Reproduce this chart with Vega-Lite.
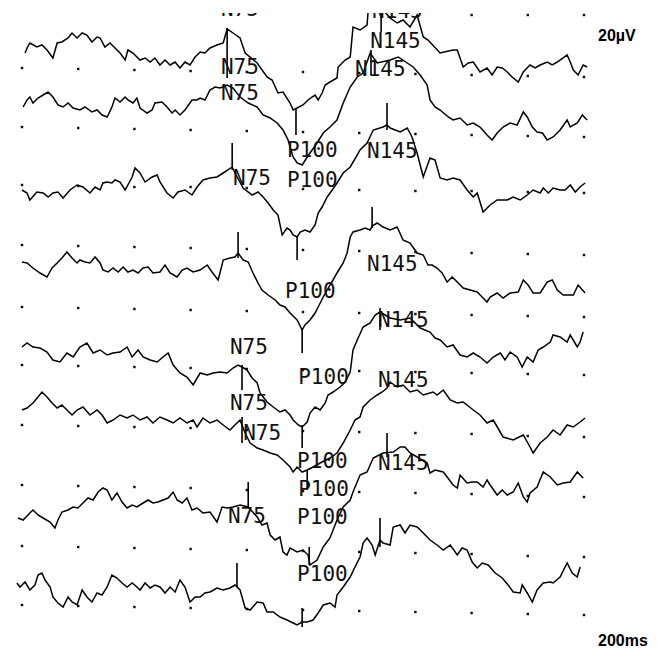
{
"$schema":"https://vega.github.io/schema/vega-lite/v6.json",
"width":657,"height":636,
"autosize":{"type":"none"},
"padding":{"left":0,"right":0,"top":13,"bottom":0},
"background":"white",
"config":{"view":{"stroke":null}},
"datasets":{
"dots":[
{"t":160,"y":15},{"t":180,"y":15},{"t":200,"y":15},
{"t":0,"y":68},{"t":20,"y":69},{"t":40,"y":70},{"t":60,"y":71},{"t":80,"y":72},{"t":100,"y":72},{"t":120,"y":73},{"t":140,"y":74},{"t":160,"y":75},{"t":180,"y":76},{"t":200,"y":77},
{"t":0,"y":127},{"t":20,"y":128},{"t":40,"y":129},{"t":60,"y":130},{"t":80,"y":131},{"t":100,"y":132},{"t":120,"y":133},{"t":140,"y":134},{"t":160,"y":135},{"t":180,"y":136},{"t":200,"y":137},
{"t":0,"y":185},{"t":20,"y":186},{"t":40,"y":187},{"t":60,"y":187},{"t":80,"y":188},{"t":100,"y":189},{"t":120,"y":190},{"t":140,"y":191},{"t":160,"y":191},{"t":180,"y":192},{"t":200,"y":193},
{"t":0,"y":245},{"t":20,"y":246},{"t":40,"y":247},{"t":60,"y":248},{"t":80,"y":249},{"t":100,"y":250},{"t":120,"y":251},{"t":140,"y":252},{"t":160,"y":253},{"t":180,"y":254},{"t":200,"y":255},
{"t":0,"y":307},{"t":20,"y":308},{"t":40,"y":309},{"t":60,"y":310},{"t":80,"y":311},{"t":100,"y":312},{"t":120,"y":313},{"t":140,"y":314},{"t":160,"y":315},{"t":180,"y":316},{"t":200,"y":317},
{"t":0,"y":365},{"t":20,"y":366},{"t":40,"y":367},{"t":60,"y":368},{"t":80,"y":369},{"t":100,"y":370},{"t":120,"y":371},{"t":140,"y":372},{"t":160,"y":373},{"t":180,"y":374},{"t":200,"y":375},
{"t":0,"y":425},{"t":20,"y":426},{"t":40,"y":427},{"t":60,"y":428},{"t":80,"y":430},{"t":100,"y":431},{"t":120,"y":432},{"t":140,"y":433},{"t":160,"y":434},{"t":180,"y":436},{"t":200,"y":437},
{"t":0,"y":485},{"t":20,"y":486},{"t":40,"y":487},{"t":60,"y":488},{"t":80,"y":490},{"t":100,"y":491},{"t":120,"y":492},{"t":140,"y":493},{"t":160,"y":494},{"t":180,"y":496},{"t":200,"y":497},
{"t":0,"y":546},{"t":20,"y":547},{"t":40,"y":548},{"t":60,"y":549},{"t":80,"y":550},{"t":100,"y":551},{"t":120,"y":552},{"t":140,"y":553},{"t":160,"y":554},{"t":180,"y":556},{"t":200,"y":557},
{"t":0,"y":605},{"t":20,"y":606},{"t":40,"y":607},{"t":60,"y":608},{"t":80,"y":609},{"t":100,"y":610},{"t":120,"y":611},{"t":140,"y":612},{"t":160,"y":613},{"t":180,"y":614},{"t":200,"y":615}
],
"tr":[
{"s":1,"t":1.1,"y":53},{"s":1,"t":1.8,"y":48},{"s":1,"t":2.8,"y":43},{"s":1,"t":5.3,"y":47},{"s":1,"t":7.1,"y":45},{"s":1,"t":8.9,"y":50},{"s":1,"t":11.0,"y":58},{"s":1,"t":12.5,"y":43},{"s":1,"t":14.2,"y":42},{"s":1,"t":16.4,"y":38},{"s":1,"t":17.8,"y":33},{"s":1,"t":19.6,"y":38},{"s":1,"t":21.4,"y":33},{"s":1,"t":23.1,"y":35},{"s":1,"t":24.9,"y":42},{"s":1,"t":26.7,"y":37},{"s":1,"t":27.8,"y":38},{"s":1,"t":29.5,"y":47},{"s":1,"t":31.3,"y":43},{"s":1,"t":33.1,"y":48},{"s":1,"t":34.9,"y":53},{"s":1,"t":36.7,"y":60},{"s":1,"t":37.7,"y":50},{"s":1,"t":39.5,"y":53},{"s":1,"t":42.0,"y":60},{"s":1,"t":43.8,"y":58},{"s":1,"t":45.6,"y":62},{"s":1,"t":47.3,"y":58},{"s":1,"t":49.1,"y":65},{"s":1,"t":50.9,"y":60},{"s":1,"t":52.7,"y":65},{"s":1,"t":54.5,"y":62},{"s":1,"t":56.2,"y":68},{"s":1,"t":58.0,"y":62},{"s":1,"t":59.8,"y":65},{"s":1,"t":61.6,"y":57},{"s":1,"t":63.4,"y":52},{"s":1,"t":65.1,"y":53},{"s":1,"t":66.9,"y":48},{"s":1,"t":69.4,"y":45},{"s":1,"t":71.6,"y":43},{"s":1,"t":73.0,"y":29},{"s":1,"t":75.1,"y":33},{"s":1,"t":77.6,"y":38},{"s":1,"t":79.4,"y":53},{"s":1,"t":83.7,"y":63},{"s":1,"t":87.2,"y":77},{"s":1,"t":89.0,"y":80},{"s":1,"t":91.1,"y":93},{"s":1,"t":92.9,"y":92},{"s":1,"t":95.4,"y":103},{"s":1,"t":96.5,"y":110},{"s":1,"t":97.9,"y":108},{"s":1,"t":100.0,"y":105},{"s":1,"t":101.8,"y":100},{"s":1,"t":103.2,"y":97},{"s":1,"t":104.3,"y":95},{"s":1,"t":105.4,"y":100},{"s":1,"t":106.8,"y":93},{"s":1,"t":107.9,"y":85},{"s":1,"t":109.6,"y":82},{"s":1,"t":112.1,"y":78},{"s":1,"t":112.5,"y":67},{"s":1,"t":115.0,"y":60},{"s":1,"t":116.8,"y":57},{"s":1,"t":117.8,"y":27},{"s":1,"t":120.3,"y":30},{"s":1,"t":122.8,"y":25},{"s":1,"t":123.2,"y":10},{"s":1,"t":126.4,"y":8},{"s":1,"t":128.5,"y":10},{"s":1,"t":131.0,"y":18},{"s":1,"t":133.5,"y":23},{"s":1,"t":135.6,"y":20},{"s":1,"t":138.1,"y":27},{"s":1,"t":140.6,"y":15},{"s":1,"t":142.8,"y":37},{"s":1,"t":144.5,"y":40},{"s":1,"t":148.8,"y":53},{"s":1,"t":153.4,"y":50},{"s":1,"t":154.9,"y":50},{"s":1,"t":157.0,"y":67},{"s":1,"t":158.8,"y":63},{"s":1,"t":160.6,"y":62},{"s":1,"t":163.0,"y":72},{"s":1,"t":165.5,"y":68},{"s":1,"t":167.3,"y":75},{"s":1,"t":169.1,"y":67},{"s":1,"t":170.9,"y":68},{"s":1,"t":172.7,"y":72},{"s":1,"t":174.4,"y":77},{"s":1,"t":176.6,"y":82},{"s":1,"t":178.4,"y":72},{"s":1,"t":180.8,"y":65},{"s":1,"t":182.6,"y":68},{"s":1,"t":184.4,"y":65},{"s":1,"t":186.9,"y":62},{"s":1,"t":188.7,"y":65},{"s":1,"t":190.5,"y":62},{"s":1,"t":194.0,"y":55},{"s":1,"t":195.1,"y":62},{"s":1,"t":196.2,"y":70},{"s":1,"t":197.9,"y":75},{"s":1,"t":199.7,"y":65},{"s":1,"t":201.1,"y":67},
{"s":2,"t":0.4,"y":107},{"s":2,"t":1.8,"y":100},{"s":2,"t":2.8,"y":97},{"s":2,"t":3.9,"y":103},{"s":2,"t":5.7,"y":98},{"s":2,"t":7.5,"y":95},{"s":2,"t":9.3,"y":92},{"s":2,"t":11.0,"y":97},{"s":2,"t":12.8,"y":105},{"s":2,"t":14.6,"y":107},{"s":2,"t":16.4,"y":103},{"s":2,"t":18.2,"y":108},{"s":2,"t":20.6,"y":110},{"s":2,"t":22.4,"y":107},{"s":2,"t":24.9,"y":112},{"s":2,"t":26.7,"y":110},{"s":2,"t":28.5,"y":115},{"s":2,"t":30.3,"y":117},{"s":2,"t":32.0,"y":107},{"s":2,"t":33.1,"y":98},{"s":2,"t":34.9,"y":102},{"s":2,"t":36.7,"y":97},{"s":2,"t":37.7,"y":100},{"s":2,"t":39.5,"y":103},{"s":2,"t":40.9,"y":98},{"s":2,"t":42.0,"y":108},{"s":2,"t":44.5,"y":113},{"s":2,"t":46.3,"y":110},{"s":2,"t":47.3,"y":103},{"s":2,"t":49.8,"y":102},{"s":2,"t":51.6,"y":107},{"s":2,"t":53.4,"y":113},{"s":2,"t":54.5,"y":110},{"s":2,"t":56.2,"y":115},{"s":2,"t":58.0,"y":110},{"s":2,"t":60.5,"y":100},{"s":2,"t":62.3,"y":100},{"s":2,"t":63.4,"y":98},{"s":2,"t":65.1,"y":100},{"s":2,"t":66.9,"y":90},{"s":2,"t":68.7,"y":87},{"s":2,"t":70.5,"y":88},{"s":2,"t":73.0,"y":85},{"s":2,"t":75.1,"y":88},{"s":2,"t":77.6,"y":97},{"s":2,"t":80.5,"y":103},{"s":2,"t":83.7,"y":107},{"s":2,"t":85.8,"y":115},{"s":2,"t":88.3,"y":118},{"s":2,"t":90.8,"y":123},{"s":2,"t":92.9,"y":130},{"s":2,"t":94.7,"y":140},{"s":2,"t":95.4,"y":147},{"s":2,"t":96.5,"y":157},{"s":2,"t":97.9,"y":163},{"s":2,"t":99.7,"y":165},{"s":2,"t":101.5,"y":157},{"s":2,"t":105.0,"y":143},{"s":2,"t":107.2,"y":133},{"s":2,"t":109.6,"y":127},{"s":2,"t":112.1,"y":120},{"s":2,"t":114.3,"y":103},{"s":2,"t":116.8,"y":87},{"s":2,"t":119.3,"y":77},{"s":2,"t":121.4,"y":73},{"s":2,"t":123.9,"y":53},{"s":2,"t":126.4,"y":63},{"s":2,"t":131.0,"y":60},{"s":2,"t":133.9,"y":57},{"s":2,"t":137.1,"y":63},{"s":2,"t":139.2,"y":67},{"s":2,"t":141.7,"y":75},{"s":2,"t":144.2,"y":85},{"s":2,"t":145.2,"y":100},{"s":2,"t":147.0,"y":107},{"s":2,"t":148.8,"y":110},{"s":2,"t":151.7,"y":117},{"s":2,"t":153.4,"y":120},{"s":2,"t":155.9,"y":118},{"s":2,"t":158.4,"y":125},{"s":2,"t":160.6,"y":123},{"s":2,"t":163.0,"y":127},{"s":2,"t":165.5,"y":135},{"s":2,"t":167.3,"y":140},{"s":2,"t":169.1,"y":133},{"s":2,"t":171.2,"y":127},{"s":2,"t":173.7,"y":123},{"s":2,"t":176.2,"y":125},{"s":2,"t":178.4,"y":112},{"s":2,"t":179.8,"y":117},{"s":2,"t":181.6,"y":127},{"s":2,"t":183.3,"y":132},{"s":2,"t":185.2,"y":133},{"s":2,"t":186.9,"y":140},{"s":2,"t":189.0,"y":137},{"s":2,"t":191.5,"y":130},{"s":2,"t":194.0,"y":120},{"s":2,"t":195.1,"y":127},{"s":2,"t":197.6,"y":123},{"s":2,"t":199.4,"y":115},{"s":2,"t":201.1,"y":120},
{"s":3,"t":0,"y":190},{"s":3,"t":1.8,"y":193},{"s":3,"t":2.8,"y":200},{"s":3,"t":5.3,"y":192},{"s":3,"t":7.5,"y":193},{"s":3,"t":9.3,"y":197},{"s":3,"t":11.0,"y":193},{"s":3,"t":12.8,"y":192},{"s":3,"t":14.6,"y":198},{"s":3,"t":17.1,"y":190},{"s":3,"t":19.6,"y":185},{"s":3,"t":21.7,"y":187},{"s":3,"t":24.2,"y":193},{"s":3,"t":26.0,"y":187},{"s":3,"t":27.8,"y":190},{"s":3,"t":28.8,"y":183},{"s":3,"t":30.3,"y":182},{"s":3,"t":32.0,"y":183},{"s":3,"t":33.1,"y":180},{"s":3,"t":34.9,"y":182},{"s":3,"t":36.7,"y":190},{"s":3,"t":39.2,"y":177},{"s":3,"t":40.2,"y":168},{"s":3,"t":42.0,"y":173},{"s":3,"t":43.8,"y":182},{"s":3,"t":46.3,"y":177},{"s":3,"t":48.1,"y":175},{"s":3,"t":49.1,"y":182},{"s":3,"t":51.6,"y":193},{"s":3,"t":53.8,"y":198},{"s":3,"t":55.5,"y":192},{"s":3,"t":58.0,"y":190},{"s":3,"t":60.5,"y":195},{"s":3,"t":62.3,"y":187},{"s":3,"t":64.4,"y":180},{"s":3,"t":66.9,"y":178},{"s":3,"t":69.4,"y":177},{"s":3,"t":71.6,"y":173},{"s":3,"t":74.8,"y":167},{"s":3,"t":75.8,"y":173},{"s":3,"t":78.7,"y":188},{"s":3,"t":81.9,"y":195},{"s":3,"t":84.0,"y":192},{"s":3,"t":85.8,"y":197},{"s":3,"t":87.6,"y":203},{"s":3,"t":89.4,"y":210},{"s":3,"t":91.1,"y":215},{"s":3,"t":92.6,"y":235},{"s":3,"t":94.3,"y":228},{"s":3,"t":95.4,"y":230},{"s":3,"t":96.5,"y":235},{"s":3,"t":97.9,"y":237},{"s":3,"t":99.0,"y":232},{"s":3,"t":100.7,"y":230},{"s":3,"t":102.5,"y":232},{"s":3,"t":104.3,"y":225},{"s":3,"t":105.4,"y":213},{"s":3,"t":106.8,"y":207},{"s":3,"t":108.6,"y":197},{"s":3,"t":110.4,"y":190},{"s":3,"t":112.1,"y":183},{"s":3,"t":114.3,"y":173},{"s":3,"t":116.8,"y":167},{"s":3,"t":119.3,"y":155},{"s":3,"t":120.3,"y":150},{"s":3,"t":122.8,"y":143},{"s":3,"t":125.0,"y":130},{"s":3,"t":128.5,"y":127},{"s":3,"t":129.9,"y":125},{"s":3,"t":131.0,"y":128},{"s":3,"t":134.6,"y":132},{"s":3,"t":137.1,"y":128},{"s":3,"t":138.8,"y":137},{"s":3,"t":140.6,"y":153},{"s":3,"t":142.8,"y":177},{"s":3,"t":145.2,"y":158},{"s":3,"t":147.0,"y":160},{"s":3,"t":148.8,"y":178},{"s":3,"t":151.3,"y":180},{"s":3,"t":153.4,"y":178},{"s":3,"t":155.9,"y":180},{"s":3,"t":158.4,"y":190},{"s":3,"t":160.6,"y":197},{"s":3,"t":162.0,"y":193},{"s":3,"t":164.1,"y":212},{"s":3,"t":166.6,"y":205},{"s":3,"t":169.1,"y":200},{"s":3,"t":172.7,"y":200},{"s":3,"t":174.8,"y":197},{"s":3,"t":177.3,"y":200},{"s":3,"t":179.8,"y":195},{"s":3,"t":181.9,"y":190},{"s":3,"t":184.4,"y":193},{"s":3,"t":185.5,"y":188},{"s":3,"t":187.3,"y":193},{"s":3,"t":189.0,"y":188},{"s":3,"t":191.5,"y":190},{"s":3,"t":193.3,"y":190},{"s":3,"t":195.1,"y":185},{"s":3,"t":196.9,"y":192},{"s":3,"t":198.6,"y":187},{"s":3,"t":200.4,"y":183},
{"s":4,"t":0,"y":262},{"s":4,"t":1.8,"y":263},{"s":4,"t":3.9,"y":268},{"s":4,"t":6.4,"y":273},{"s":4,"t":8.9,"y":277},{"s":4,"t":10.7,"y":268},{"s":4,"t":12.5,"y":263},{"s":4,"t":14.2,"y":258},{"s":4,"t":16.0,"y":252},{"s":4,"t":17.8,"y":258},{"s":4,"t":19.6,"y":263},{"s":4,"t":20.6,"y":260},{"s":4,"t":22.4,"y":262},{"s":4,"t":24.2,"y":263},{"s":4,"t":26.0,"y":257},{"s":4,"t":27.8,"y":263},{"s":4,"t":28.8,"y":270},{"s":4,"t":30.6,"y":272},{"s":4,"t":32.4,"y":268},{"s":4,"t":34.2,"y":272},{"s":4,"t":36.0,"y":267},{"s":4,"t":37.7,"y":272},{"s":4,"t":39.5,"y":270},{"s":4,"t":41.3,"y":273},{"s":4,"t":43.1,"y":268},{"s":4,"t":44.9,"y":267},{"s":4,"t":46.6,"y":273},{"s":4,"t":49.1,"y":272},{"s":4,"t":50.9,"y":265},{"s":4,"t":52.7,"y":273},{"s":4,"t":55.2,"y":277},{"s":4,"t":57.0,"y":270},{"s":4,"t":58.7,"y":268},{"s":4,"t":60.9,"y":272},{"s":4,"t":63.4,"y":270},{"s":4,"t":65.9,"y":265},{"s":4,"t":67.6,"y":272},{"s":4,"t":69.8,"y":280},{"s":4,"t":71.6,"y":260},{"s":4,"t":74.0,"y":258},{"s":4,"t":75.8,"y":257},{"s":4,"t":76.9,"y":253},{"s":4,"t":78.7,"y":260},{"s":4,"t":80.5,"y":262},{"s":4,"t":82.2,"y":273},{"s":4,"t":84.0,"y":283},{"s":4,"t":85.4,"y":290},{"s":4,"t":87.6,"y":295},{"s":4,"t":90.1,"y":300},{"s":4,"t":91.8,"y":305},{"s":4,"t":93.6,"y":307},{"s":4,"t":95.4,"y":313},{"s":4,"t":97.9,"y":320},{"s":4,"t":99.7,"y":330},{"s":4,"t":100.7,"y":325},{"s":4,"t":102.5,"y":320},{"s":4,"t":104.3,"y":313},{"s":4,"t":105.4,"y":307},{"s":4,"t":107.2,"y":297},{"s":4,"t":108.6,"y":290},{"s":4,"t":110.7,"y":280},{"s":4,"t":112.1,"y":273},{"s":4,"t":114.3,"y":263},{"s":4,"t":115.7,"y":253},{"s":4,"t":116.8,"y":237},{"s":4,"t":117.8,"y":232},{"s":4,"t":120.3,"y":230},{"s":4,"t":122.1,"y":228},{"s":4,"t":123.9,"y":230},{"s":4,"t":124.6,"y":226},{"s":4,"t":126.4,"y":223},{"s":4,"t":128.5,"y":227},{"s":4,"t":131.0,"y":230},{"s":4,"t":133.5,"y":227},{"s":4,"t":135.6,"y":240},{"s":4,"t":138.1,"y":243},{"s":4,"t":140.6,"y":253},{"s":4,"t":142.8,"y":255},{"s":4,"t":144.5,"y":265},{"s":4,"t":146.0,"y":265},{"s":4,"t":147.7,"y":268},{"s":4,"t":149.5,"y":273},{"s":4,"t":151.3,"y":282},{"s":4,"t":153.1,"y":277},{"s":4,"t":154.9,"y":282},{"s":4,"t":157.0,"y":288},{"s":4,"t":159.5,"y":290},{"s":4,"t":162.0,"y":292},{"s":4,"t":164.1,"y":298},{"s":4,"t":165.5,"y":302},{"s":4,"t":166.6,"y":297},{"s":4,"t":169.1,"y":293},{"s":4,"t":171.2,"y":298},{"s":4,"t":173.7,"y":293},{"s":4,"t":176.6,"y":292},{"s":4,"t":178.4,"y":280},{"s":4,"t":180.1,"y":285},{"s":4,"t":181.9,"y":293},{"s":4,"t":184.4,"y":293},{"s":4,"t":186.9,"y":282},{"s":4,"t":188.7,"y":280},{"s":4,"t":190.5,"y":290},{"s":4,"t":192.6,"y":295},{"s":4,"t":196.2,"y":295},{"s":4,"t":197.9,"y":285},{"s":4,"t":200.4,"y":293},
{"s":5,"t":0,"y":347},{"s":5,"t":1.8,"y":343},{"s":5,"t":3.9,"y":347},{"s":5,"t":6.4,"y":348},{"s":5,"t":8.9,"y":352},{"s":5,"t":11.0,"y":360},{"s":5,"t":13.5,"y":362},{"s":5,"t":16.0,"y":353},{"s":5,"t":18.2,"y":357},{"s":5,"t":20.6,"y":347},{"s":5,"t":23.1,"y":343},{"s":5,"t":25.3,"y":353},{"s":5,"t":27.8,"y":350},{"s":5,"t":30.3,"y":355},{"s":5,"t":32.4,"y":353},{"s":5,"t":34.9,"y":352},{"s":5,"t":37.4,"y":347},{"s":5,"t":39.2,"y":357},{"s":5,"t":41.3,"y":350},{"s":5,"t":43.1,"y":357},{"s":5,"t":45.6,"y":360},{"s":5,"t":48.1,"y":362},{"s":5,"t":50.2,"y":357},{"s":5,"t":52.0,"y":353},{"s":5,"t":53.8,"y":365},{"s":5,"t":56.2,"y":373},{"s":5,"t":58.7,"y":377},{"s":5,"t":60.9,"y":385},{"s":5,"t":63.4,"y":373},{"s":5,"t":65.9,"y":375},{"s":5,"t":68.0,"y":373},{"s":5,"t":70.5,"y":372},{"s":5,"t":73.0,"y":373},{"s":5,"t":75.1,"y":368},{"s":5,"t":76.9,"y":365},{"s":5,"t":78.3,"y":367},{"s":5,"t":80.1,"y":370},{"s":5,"t":81.9,"y":378},{"s":5,"t":83.7,"y":383},{"s":5,"t":84.7,"y":393},{"s":5,"t":87.2,"y":402},{"s":5,"t":89.4,"y":407},{"s":5,"t":91.8,"y":412},{"s":5,"t":93.6,"y":410},{"s":5,"t":95.4,"y":415},{"s":5,"t":96.5,"y":420},{"s":5,"t":98.3,"y":425},{"s":5,"t":99.7,"y":427},{"s":5,"t":101.5,"y":422},{"s":5,"t":102.5,"y":413},{"s":5,"t":104.3,"y":407},{"s":5,"t":106.1,"y":410},{"s":5,"t":107.9,"y":403},{"s":5,"t":108.9,"y":395},{"s":5,"t":110.7,"y":392},{"s":5,"t":113.2,"y":387},{"s":5,"t":115.0,"y":382},{"s":5,"t":116.8,"y":372},{"s":5,"t":117.8,"y":350},{"s":5,"t":119.3,"y":340},{"s":5,"t":121.4,"y":327},{"s":5,"t":123.9,"y":323},{"s":5,"t":125.7,"y":315},{"s":5,"t":127.4,"y":312},{"s":5,"t":131.0,"y":318},{"s":5,"t":134.6,"y":320},{"s":5,"t":138.1,"y":318},{"s":5,"t":141.7,"y":328},{"s":5,"t":145.2,"y":332},{"s":5,"t":147.0,"y":338},{"s":5,"t":148.8,"y":340},{"s":5,"t":151.3,"y":347},{"s":5,"t":153.4,"y":345},{"s":5,"t":155.9,"y":355},{"s":5,"t":158.4,"y":357},{"s":5,"t":160.6,"y":353},{"s":5,"t":163.0,"y":357},{"s":5,"t":165.5,"y":363},{"s":5,"t":167.7,"y":357},{"s":5,"t":170.2,"y":353},{"s":5,"t":171.9,"y":360},{"s":5,"t":173.7,"y":352},{"s":5,"t":176.2,"y":357},{"s":5,"t":178.0,"y":367},{"s":5,"t":179.8,"y":357},{"s":5,"t":181.9,"y":362},{"s":5,"t":183.7,"y":350},{"s":5,"t":185.5,"y":347},{"s":5,"t":188.0,"y":342},{"s":5,"t":189.0,"y":335},{"s":5,"t":191.5,"y":337},{"s":5,"t":194.0,"y":342},{"s":5,"t":195.1,"y":335},{"s":5,"t":197.6,"y":347},{"s":5,"t":198.6,"y":342},{"s":5,"t":199.7,"y":332},
{"s":6,"t":0,"y":410},{"s":6,"t":1.8,"y":408},{"s":6,"t":3.9,"y":403},{"s":6,"t":5.7,"y":397},{"s":6,"t":7.1,"y":392},{"s":6,"t":8.9,"y":397},{"s":6,"t":10.7,"y":403},{"s":6,"t":12.5,"y":408},{"s":6,"t":14.2,"y":405},{"s":6,"t":16.0,"y":410},{"s":6,"t":17.8,"y":415},{"s":6,"t":19.6,"y":410},{"s":6,"t":21.7,"y":407},{"s":6,"t":24.2,"y":415},{"s":6,"t":26.7,"y":410},{"s":6,"t":28.5,"y":415},{"s":6,"t":30.3,"y":423},{"s":6,"t":32.4,"y":420},{"s":6,"t":34.9,"y":415},{"s":6,"t":37.4,"y":418},{"s":6,"t":39.5,"y":415},{"s":6,"t":42.0,"y":420},{"s":6,"t":44.5,"y":417},{"s":6,"t":46.6,"y":423},{"s":6,"t":49.1,"y":417},{"s":6,"t":51.6,"y":420},{"s":6,"t":53.8,"y":423},{"s":6,"t":56.2,"y":418},{"s":6,"t":58.7,"y":423},{"s":6,"t":60.9,"y":420},{"s":6,"t":62.3,"y":427},{"s":6,"t":64.4,"y":418},{"s":6,"t":66.9,"y":423},{"s":6,"t":69.4,"y":420},{"s":6,"t":71.6,"y":425},{"s":6,"t":74.0,"y":430},{"s":6,"t":76.5,"y":423},{"s":6,"t":77.6,"y":420},{"s":6,"t":79.4,"y":433},{"s":6,"t":81.2,"y":443},{"s":6,"t":83.7,"y":448},{"s":6,"t":85.8,"y":450},{"s":6,"t":88.3,"y":453},{"s":6,"t":90.8,"y":455},{"s":6,"t":92.9,"y":460},{"s":6,"t":95.4,"y":467},{"s":6,"t":96.5,"y":472},{"s":6,"t":97.9,"y":467},{"s":6,"t":99.7,"y":472},{"s":6,"t":101.5,"y":470},{"s":6,"t":103.6,"y":467},{"s":6,"t":106.1,"y":463},{"s":6,"t":109.6,"y":458},{"s":6,"t":112.1,"y":453},{"s":6,"t":114.3,"y":443},{"s":6,"t":116.8,"y":430},{"s":6,"t":118.5,"y":420},{"s":6,"t":120.3,"y":417},{"s":6,"t":121.4,"y":407},{"s":6,"t":123.9,"y":400},{"s":6,"t":126.4,"y":395},{"s":6,"t":128.2,"y":392},{"s":6,"t":129.9,"y":388},{"s":6,"t":131.0,"y":382},{"s":6,"t":133.5,"y":387},{"s":6,"t":135.6,"y":385},{"s":6,"t":138.1,"y":392},{"s":6,"t":140.6,"y":390},{"s":6,"t":142.8,"y":395},{"s":6,"t":146.3,"y":392},{"s":6,"t":147.7,"y":395},{"s":6,"t":149.9,"y":390},{"s":6,"t":152.4,"y":400},{"s":6,"t":154.9,"y":403},{"s":6,"t":157.0,"y":402},{"s":6,"t":160.6,"y":410},{"s":6,"t":163.0,"y":415},{"s":6,"t":165.5,"y":423},{"s":6,"t":167.7,"y":420},{"s":6,"t":171.2,"y":437},{"s":6,"t":174.8,"y":440},{"s":6,"t":178.4,"y":435},{"s":6,"t":180.8,"y":447},{"s":6,"t":181.9,"y":453},{"s":6,"t":184.4,"y":443},{"s":6,"t":186.9,"y":437},{"s":6,"t":189.0,"y":430},{"s":6,"t":191.5,"y":435},{"s":6,"t":194.0,"y":425},{"s":6,"t":196.2,"y":427},{"s":6,"t":198.6,"y":422},{"s":6,"t":200.4,"y":418},
{"s":7,"t":-1.4,"y":518},{"s":7,"t":0.4,"y":520},{"s":7,"t":2.8,"y":513},{"s":7,"t":3.9,"y":510},{"s":7,"t":5.7,"y":515},{"s":7,"t":7.5,"y":518},{"s":7,"t":10.0,"y":522},{"s":7,"t":11.7,"y":528},{"s":7,"t":12.8,"y":520},{"s":7,"t":14.2,"y":512},{"s":7,"t":16.4,"y":510},{"s":7,"t":18.2,"y":507},{"s":7,"t":19.9,"y":508},{"s":7,"t":21.7,"y":503},{"s":7,"t":23.5,"y":498},{"s":7,"t":25.3,"y":500},{"s":7,"t":27.1,"y":492},{"s":7,"t":28.8,"y":488},{"s":7,"t":30.3,"y":490},{"s":7,"t":32.0,"y":500},{"s":7,"t":33.8,"y":493},{"s":7,"t":35.6,"y":502},{"s":7,"t":37.4,"y":508},{"s":7,"t":39.2,"y":505},{"s":7,"t":40.9,"y":507},{"s":7,"t":43.1,"y":503},{"s":7,"t":44.9,"y":500},{"s":7,"t":46.6,"y":503},{"s":7,"t":48.4,"y":502},{"s":7,"t":50.2,"y":500},{"s":7,"t":52.0,"y":498},{"s":7,"t":53.8,"y":492},{"s":7,"t":55.2,"y":500},{"s":7,"t":57.0,"y":503},{"s":7,"t":58.7,"y":498},{"s":7,"t":60.5,"y":510},{"s":7,"t":62.3,"y":508},{"s":7,"t":64.4,"y":513},{"s":7,"t":66.9,"y":512},{"s":7,"t":69.4,"y":522},{"s":7,"t":71.2,"y":507},{"s":7,"t":73.0,"y":508},{"s":7,"t":75.1,"y":507},{"s":7,"t":77.6,"y":505},{"s":7,"t":80.5,"y":507},{"s":7,"t":83.7,"y":517},{"s":7,"t":85.4,"y":525},{"s":7,"t":87.2,"y":523},{"s":7,"t":88.3,"y":535},{"s":7,"t":90.1,"y":540},{"s":7,"t":91.8,"y":537},{"s":7,"t":92.9,"y":552},{"s":7,"t":94.3,"y":555},{"s":7,"t":95.4,"y":548},{"s":7,"t":97.9,"y":552},{"s":7,"t":100.0,"y":550},{"s":7,"t":101.8,"y":555},{"s":7,"t":102.5,"y":565},{"s":7,"t":105.0,"y":560},{"s":7,"t":107.2,"y":547},{"s":7,"t":109.6,"y":538},{"s":7,"t":112.1,"y":520},{"s":7,"t":114.3,"y":507},{"s":7,"t":116.8,"y":500},{"s":7,"t":117.8,"y":492},{"s":7,"t":120.3,"y":475},{"s":7,"t":122.8,"y":472},{"s":7,"t":125.0,"y":458},{"s":7,"t":128.5,"y":453},{"s":7,"t":132.1,"y":452},{"s":7,"t":134.6,"y":447},{"s":7,"t":136.3,"y":447},{"s":7,"t":138.1,"y":453},{"s":7,"t":140.6,"y":457},{"s":7,"t":144.2,"y":463},{"s":7,"t":145.2,"y":473},{"s":7,"t":147.0,"y":470},{"s":7,"t":149.9,"y":472},{"s":7,"t":151.3,"y":477},{"s":7,"t":153.4,"y":485},{"s":7,"t":154.9,"y":488},{"s":7,"t":155.9,"y":475},{"s":7,"t":158.4,"y":483},{"s":7,"t":160.2,"y":482},{"s":7,"t":162.0,"y":482},{"s":7,"t":164.1,"y":487},{"s":7,"t":165.5,"y":480},{"s":7,"t":166.6,"y":485},{"s":7,"t":169.1,"y":495},{"s":7,"t":170.9,"y":490},{"s":7,"t":172.7,"y":495},{"s":7,"t":174.8,"y":492},{"s":7,"t":176.6,"y":483},{"s":7,"t":178.4,"y":497},{"s":7,"t":179.8,"y":502},{"s":7,"t":180.8,"y":493},{"s":7,"t":183.3,"y":487},{"s":7,"t":185.5,"y":472},{"s":7,"t":188.0,"y":477},{"s":7,"t":190.5,"y":485},{"s":7,"t":192.6,"y":483},{"s":7,"t":195.1,"y":482},{"s":7,"t":197.6,"y":472},{"s":7,"t":199.7,"y":478},
{"s":8,"t":-1.8,"y":583},{"s":8,"t":-0.7,"y":587},{"s":8,"t":1.1,"y":582},{"s":8,"t":2.8,"y":590},{"s":8,"t":4.6,"y":585},{"s":8,"t":5.7,"y":575},{"s":8,"t":7.1,"y":573},{"s":8,"t":8.2,"y":580},{"s":8,"t":10.0,"y":587},{"s":8,"t":11.0,"y":597},{"s":8,"t":12.8,"y":603},{"s":8,"t":14.6,"y":607},{"s":8,"t":16.4,"y":597},{"s":8,"t":17.8,"y":602},{"s":8,"t":19.6,"y":605},{"s":8,"t":21.4,"y":590},{"s":8,"t":23.1,"y":597},{"s":8,"t":24.9,"y":602},{"s":8,"t":26.7,"y":593},{"s":8,"t":28.5,"y":595},{"s":8,"t":30.3,"y":587},{"s":8,"t":32.0,"y":575},{"s":8,"t":33.8,"y":578},{"s":8,"t":35.6,"y":583},{"s":8,"t":37.4,"y":587},{"s":8,"t":39.2,"y":583},{"s":8,"t":40.9,"y":587},{"s":8,"t":42.0,"y":590},{"s":8,"t":43.8,"y":583},{"s":8,"t":45.6,"y":588},{"s":8,"t":47.3,"y":585},{"s":8,"t":49.1,"y":587},{"s":8,"t":50.9,"y":593},{"s":8,"t":52.7,"y":587},{"s":8,"t":54.5,"y":592},{"s":8,"t":56.2,"y":580},{"s":8,"t":58.0,"y":587},{"s":8,"t":59.8,"y":602},{"s":8,"t":61.6,"y":597},{"s":8,"t":63.4,"y":597},{"s":8,"t":65.1,"y":593},{"s":8,"t":66.9,"y":592},{"s":8,"t":69.4,"y":588},{"s":8,"t":71.6,"y":590},{"s":8,"t":74.0,"y":588},{"s":8,"t":75.8,"y":585},{"s":8,"t":77.6,"y":590},{"s":8,"t":79.4,"y":608},{"s":8,"t":81.2,"y":610},{"s":8,"t":83.7,"y":602},{"s":8,"t":85.8,"y":603},{"s":8,"t":87.2,"y":612},{"s":8,"t":89.4,"y":612},{"s":8,"t":91.8,"y":617},{"s":8,"t":94.3,"y":620},{"s":8,"t":96.5,"y":623},{"s":8,"t":97.9,"y":625},{"s":8,"t":99.7,"y":622},{"s":8,"t":101.5,"y":622},{"s":8,"t":103.6,"y":620},{"s":8,"t":105.4,"y":613},{"s":8,"t":107.2,"y":605},{"s":8,"t":109.6,"y":603},{"s":8,"t":111.4,"y":607},{"s":8,"t":112.1,"y":595},{"s":8,"t":114.3,"y":587},{"s":8,"t":116.8,"y":577},{"s":8,"t":118.5,"y":567},{"s":8,"t":120.3,"y":557},{"s":8,"t":121.4,"y":543},{"s":8,"t":122.8,"y":538},{"s":8,"t":124.6,"y":545},{"s":8,"t":125.7,"y":555},{"s":8,"t":127.4,"y":540},{"s":8,"t":128.5,"y":543},{"s":8,"t":131.0,"y":545},{"s":8,"t":132.1,"y":527},{"s":8,"t":134.6,"y":525},{"s":8,"t":136.3,"y":533},{"s":8,"t":138.1,"y":525},{"s":8,"t":140.6,"y":527},{"s":8,"t":142.8,"y":533},{"s":8,"t":145.2,"y":540},{"s":8,"t":147.7,"y":545},{"s":8,"t":149.9,"y":550},{"s":8,"t":152.4,"y":545},{"s":8,"t":154.9,"y":555},{"s":8,"t":156.6,"y":548},{"s":8,"t":158.4,"y":550},{"s":8,"t":160.2,"y":562},{"s":8,"t":162.0,"y":568},{"s":8,"t":163.8,"y":563},{"s":8,"t":165.9,"y":565},{"s":8,"t":168.4,"y":573},{"s":8,"t":170.9,"y":578},{"s":8,"t":173.0,"y":585},{"s":8,"t":174.8,"y":592},{"s":8,"t":177.3,"y":593},{"s":8,"t":178.0,"y":585},{"s":8,"t":179.8,"y":593},{"s":8,"t":181.6,"y":602},{"s":8,"t":183.3,"y":590},{"s":8,"t":185.5,"y":583},{"s":8,"t":188.0,"y":582},{"s":8,"t":189.0,"y":583},{"s":8,"t":191.5,"y":577},{"s":8,"t":194.0,"y":563},{"s":8,"t":195.8,"y":573},{"s":8,"t":197.6,"y":577},{"s":8,"t":198.6,"y":567}
],
"mk":[
{"t":73.0,"y1":28,"y2":78},{"t":97.5,"y1":108,"y2":135},{"t":127.8,"y1":13,"y2":32},
{"t":124.2,"y1":50,"y2":75},
{"t":74.8,"y1":143,"y2":170},{"t":97.9,"y1":237,"y2":260},{"t":129.9,"y1":103,"y2":130},
{"t":76.9,"y1":232,"y2":258},{"t":99.7,"y1":328,"y2":353},{"t":124.6,"y1":207,"y2":228},
{"t":78.3,"y1":365,"y2":390},{"t":99.7,"y1":425,"y2":448},{"t":127.4,"y1":308,"y2":330},
{"t":78.3,"y1":417,"y2":443},{"t":101.5,"y1":470,"y2":490},
{"t":80.5,"y1":482,"y2":507},{"t":102.2,"y1":547,"y2":565},{"t":129.9,"y1":433,"y2":457},
{"t":76.5,"y1":563,"y2":587},{"t":99.7,"y1":608,"y2":627},{"t":127.4,"y1":518,"y2":547}
],
"lb":[
{"t":70.8,"y":10,"k":"N75"},{"t":70.8,"y":68,"k":"N75"},{"t":70.8,"y":94,"k":"N75"},{"t":75.1,"y":179,"k":"N75"},{"t":74.0,"y":348,"k":"N75"},{"t":74.0,"y":404,"k":"N75"},{"t":78.7,"y":434,"k":"N75"},{"t":73.3,"y":517,"k":"N75"},
{"t":94.3,"y":151,"k":"P100"},{"t":94.3,"y":181,"k":"P100"},{"t":93.6,"y":292,"k":"P100"},{"t":98.3,"y":378,"k":"P100"},{"t":97.9,"y":462,"k":"P100"},{"t":98.3,"y":490,"k":"P100"},{"t":97.9,"y":518,"k":"P100"},{"t":97.9,"y":575,"k":"P100"},
{"t":124.6,"y":12,"k":"N145"},{"t":123.9,"y":42,"k":"N145"},{"t":118.5,"y":70,"k":"N145"},{"t":122.8,"y":152,"k":"N145"},{"t":122.8,"y":265,"k":"N145"},{"t":126.7,"y":321,"k":"N145"},{"t":126.7,"y":381,"k":"N145"},{"t":126.7,"y":464,"k":"N145"}
],
"ann":[
{"t":205.0,"y":36,"k":"20µV"},{"t":205.0,"y":641,"k":"200ms"}
]
},
"layer":[
{"data":{"name":"dots"},
 "mark":{"type":"point","shape":"square","filled":true,"size":6,"color":"#111","opacity":1,"clip":true},
 "encoding":{
  "x":{"field":"t","type":"quantitative","scale":{"domain":[-7.83,225.98],"nice":false,"zero":false},"axis":null},
  "y":{"field":"y","type":"quantitative","scale":{"domain":[13,649],"reverse":true,"nice":false,"zero":false},"axis":null}}},
{"data":{"name":"tr"},
 "mark":{"type":"line","color":"#000","strokeWidth":1.5,"clip":true},
 "encoding":{
  "x":{"field":"t","type":"quantitative","scale":{"domain":[-7.83,225.98],"nice":false,"zero":false},"axis":null},
  "y":{"field":"y","type":"quantitative","scale":{"domain":[13,649],"reverse":true,"nice":false,"zero":false},"axis":null},
  "detail":{"field":"s","type":"nominal"},
  "order":{"field":"t","type":"quantitative"}}},
{"data":{"name":"mk"},
 "mark":{"type":"rule","color":"#000","strokeWidth":1.6,"clip":true},
 "encoding":{
  "x":{"field":"t","type":"quantitative","scale":{"domain":[-7.83,225.98],"nice":false,"zero":false},"axis":null},
  "y":{"field":"y1","type":"quantitative","scale":{"domain":[13,649],"reverse":true,"nice":false,"zero":false},"axis":null},
  "y2":{"field":"y2"}}},
{"data":{"name":"lb"},
 "mark":{"type":"text","font":"DejaVu Sans Mono","fontSize":21,"align":"left","baseline":"middle","color":"#111","clip":true},
 "encoding":{
  "x":{"field":"t","type":"quantitative","scale":{"domain":[-7.83,225.98],"nice":false,"zero":false},"axis":null},
  "y":{"field":"y","type":"quantitative","scale":{"domain":[13,649],"reverse":true,"nice":false,"zero":false},"axis":null},
  "text":{"field":"k","type":"nominal"}}},
{"data":{"name":"ann"},
 "mark":{"type":"text","font":"Liberation Sans","fontSize":16,"fontWeight":"bold","align":"left","baseline":"middle","color":"#000"},
 "encoding":{
  "x":{"field":"t","type":"quantitative","scale":{"domain":[-7.83,225.98],"nice":false,"zero":false},"axis":null},
  "y":{"field":"y","type":"quantitative","scale":{"domain":[13,649],"reverse":true,"nice":false,"zero":false},"axis":null},
  "text":{"field":"k","type":"nominal"}}}
]
}
